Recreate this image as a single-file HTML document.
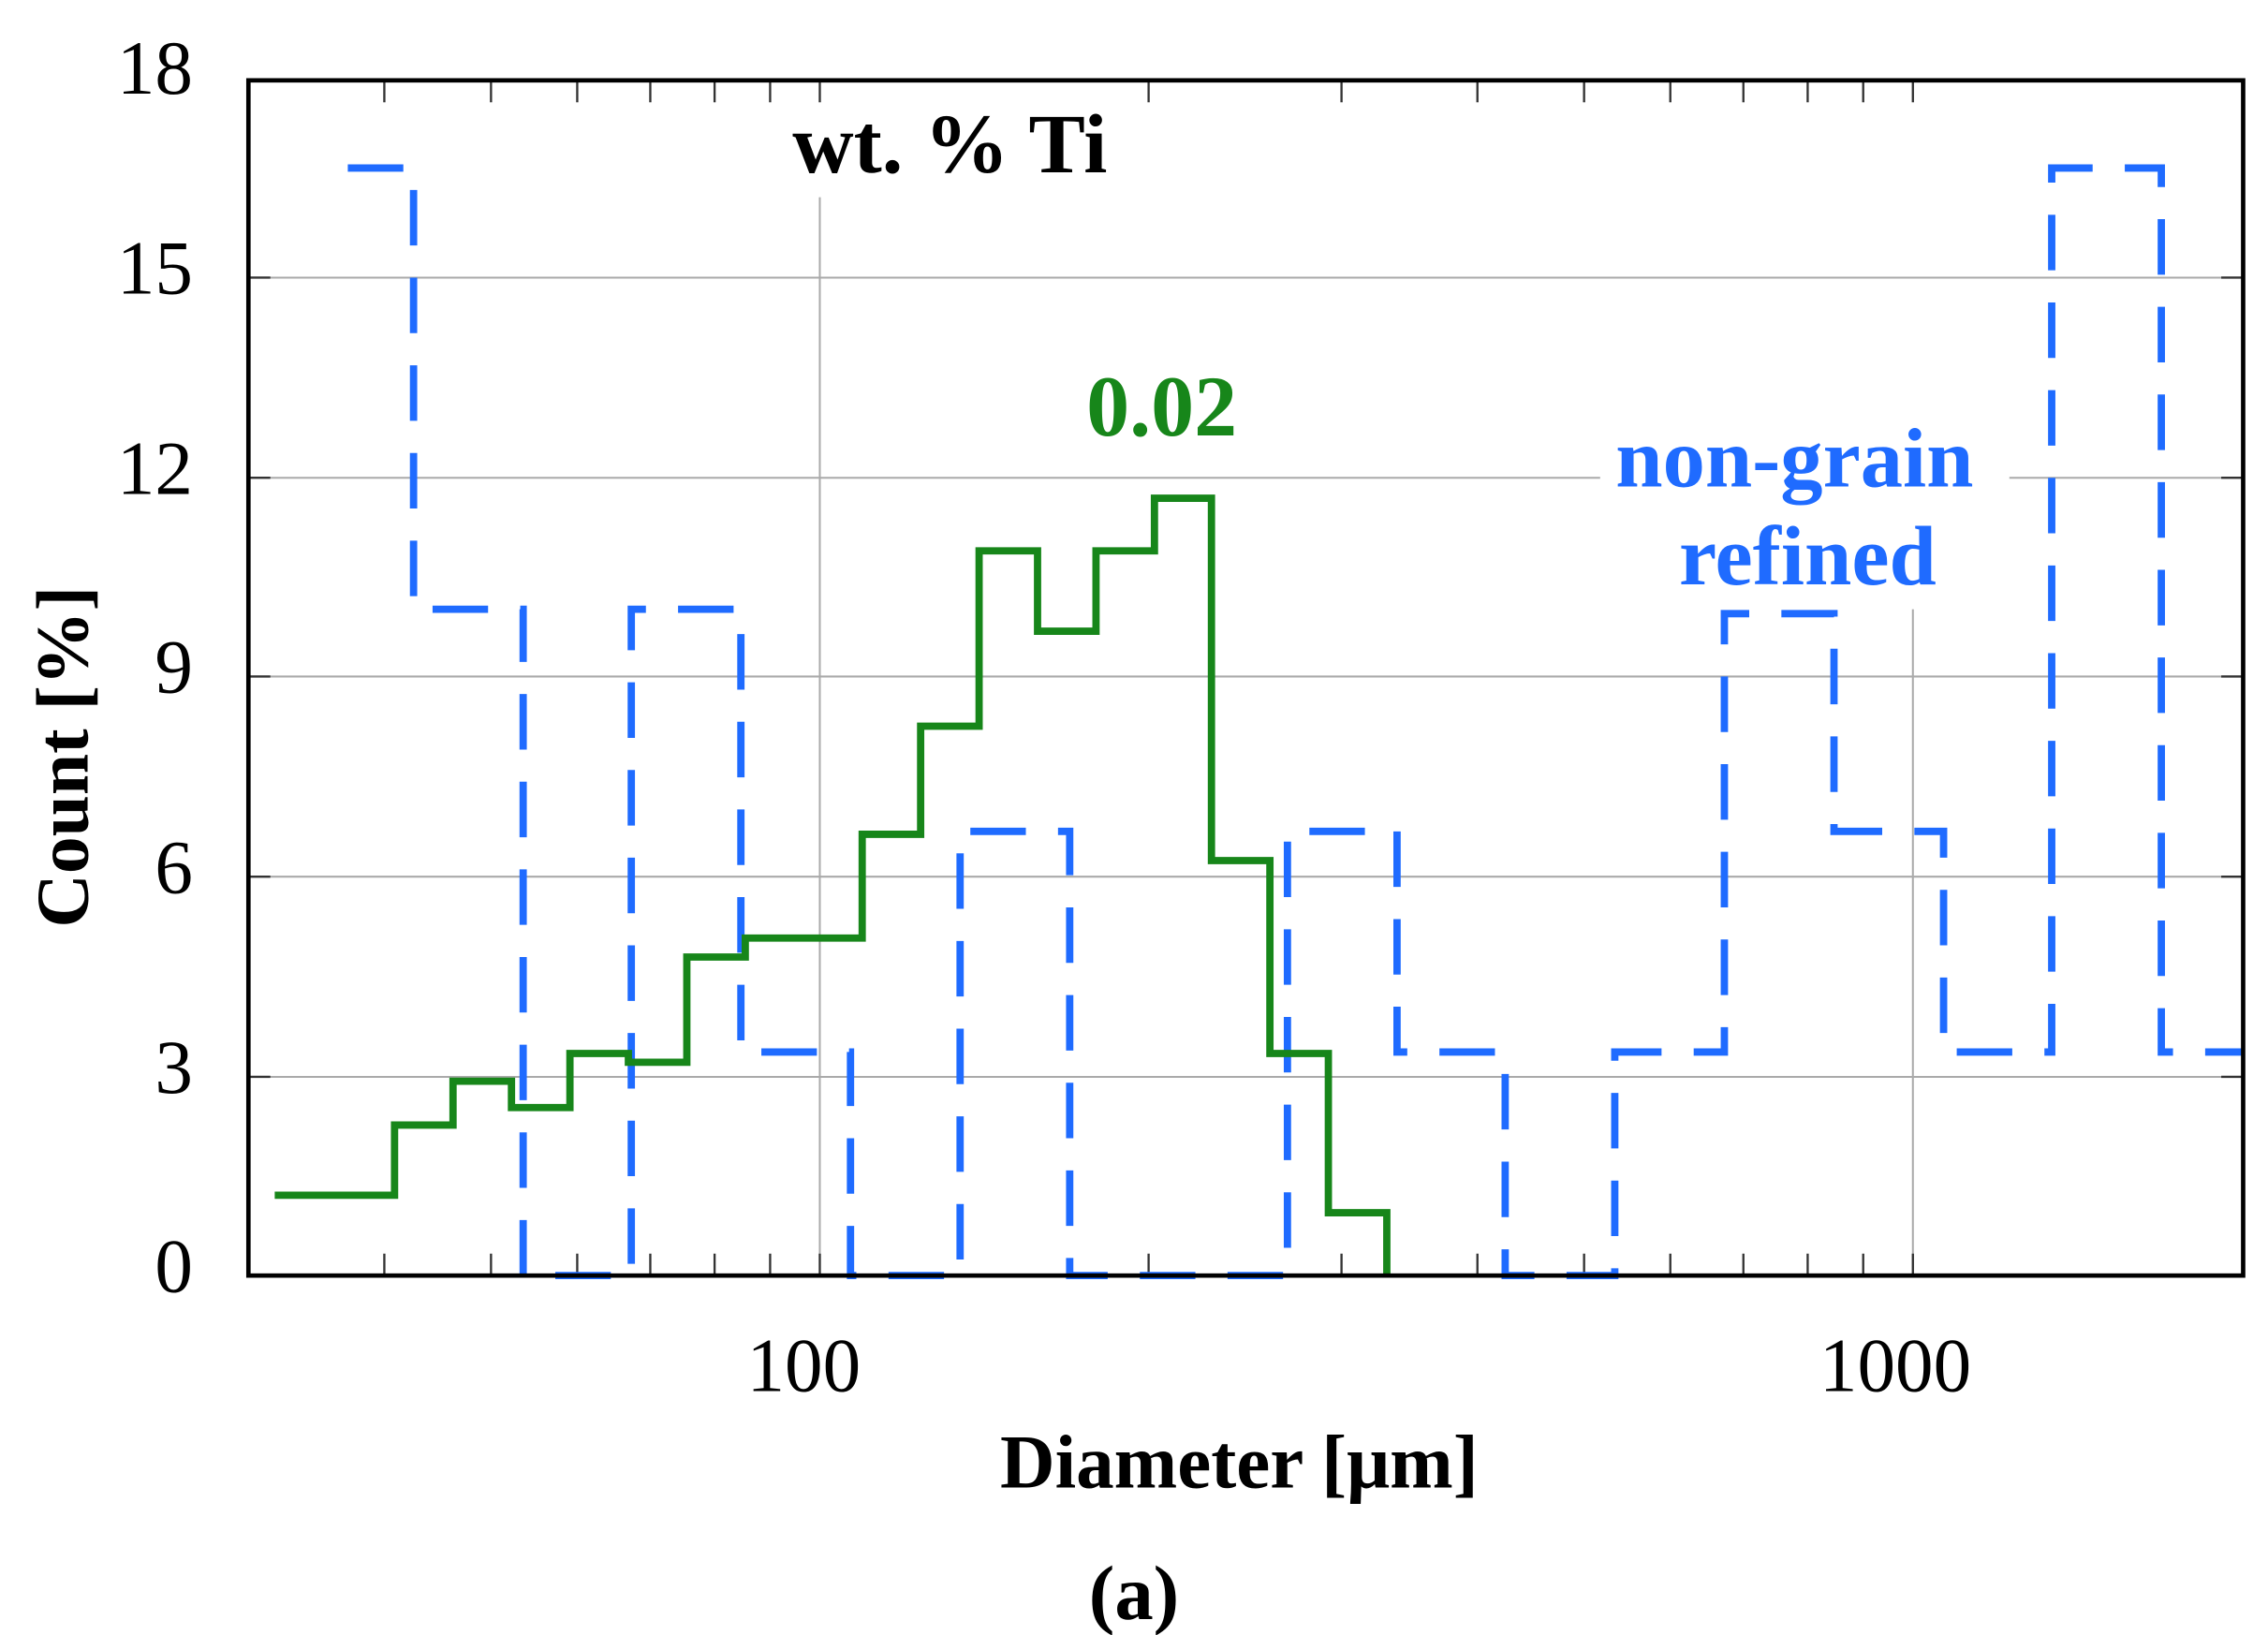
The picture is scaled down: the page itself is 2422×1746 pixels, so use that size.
<!DOCTYPE html>
<html><head><style>html,body{margin:0;padding:0;background:#fff}svg{display:block}</style></head>
<body>
<svg width="2422" height="1746" viewBox="0 0 1552 1119" preserveAspectRatio="none" xmlns="http://www.w3.org/2000/svg" font-family="'Liberation Serif', serif">
<g stroke="#aaa" stroke-width="1.3">
<line x1="170" y1="190" x2="1535" y2="190"/><line x1="170" y1="327" x2="1095" y2="327"/><line x1="1375" y1="327" x2="1535" y2="327"/>
<line x1="170" y1="463" x2="1535" y2="463"/><line x1="170" y1="600" x2="1535" y2="600"/><line x1="170" y1="737" x2="1535" y2="737"/>
<line x1="561" y1="135" x2="561" y2="873"/><line x1="1309" y1="417" x2="1309" y2="873"/>
</g>
<g stroke="#333" stroke-width="1.5">
<path d="M263 55v15M336 55v15M395 55v15M445 55v15M489 55v15M527 55v15M786 55v15M918 55v15M1011 55v15M1084 55v15M1143 55v15M1193 55v15M1237 55v15M1275 55v15M561 55v15M1309 55v15
M263 873v-15M336 873v-15M395 873v-15M445 873v-15M489 873v-15M527 873v-15M786 873v-15M918 873v-15M1011 873v-15M1084 873v-15M1143 873v-15M1193 873v-15M1237 873v-15M1275 873v-15M561 873v-15M1309 873v-15
M170 190h15M170 327h15M170 463h15M170 600h15M170 737h15M1535 190h-15M1535 327h-15M1535 463h-15M1535 600h-15M1535 737h-15"/>
</g>
<path fill="none" stroke="#1f6bff" stroke-width="5" stroke-dasharray="38 22" d="M238 115H283V417H358V873H432V417H507V720H582V873H657V569H732V873H881V569H956V720H1030V873H1105V720H1180V420H1255V569H1330V720H1404V115H1479V720H1535"/>
<path fill="none" stroke="#17861a" stroke-width="5" d="M188 818H270V770H310V740H350V758H390V721H430V727H470V655H510V642H590V571H630V497H670V377H710V432H750V377H790V341H829V589H869V721H909V830H949V873"/>
<rect x="170" y="55" width="1365" height="818" fill="none" stroke="#000" stroke-width="3"/>
<g font-size="52" text-anchor="end" fill="#000">
<text x="132" y="64">18</text><text x="132" y="201">15</text><text x="132" y="338">12</text><text x="132" y="474">9</text><text x="132" y="611">6</text><text x="132" y="748">3</text><text x="132" y="884">0</text>
</g>
<g font-size="52" text-anchor="middle"><text x="550" y="952">100</text><text x="1297" y="952">1000</text></g>
<text x="848" y="1018" font-size="52" font-weight="bold" text-anchor="middle">Diameter [μm]</text>
<text transform="translate(60,518) rotate(-90)" font-size="51" font-weight="bold" text-anchor="middle">Count [%]</text>
<text x="776" y="1108" font-size="53" font-weight="bold" text-anchor="middle">(a)</text>
<text x="650" y="118" font-size="58" font-weight="bold" text-anchor="middle">wt. % Ti</text>
<text x="795" y="298" font-size="59" font-weight="bold" fill="#17861a" text-anchor="middle">0.02</text>
<g font-size="58" font-weight="bold" fill="#1f6bff" text-anchor="middle"><text x="1228" y="333">non-grain</text><text x="1237" y="400">refined</text></g>
</svg>
</body></html>
